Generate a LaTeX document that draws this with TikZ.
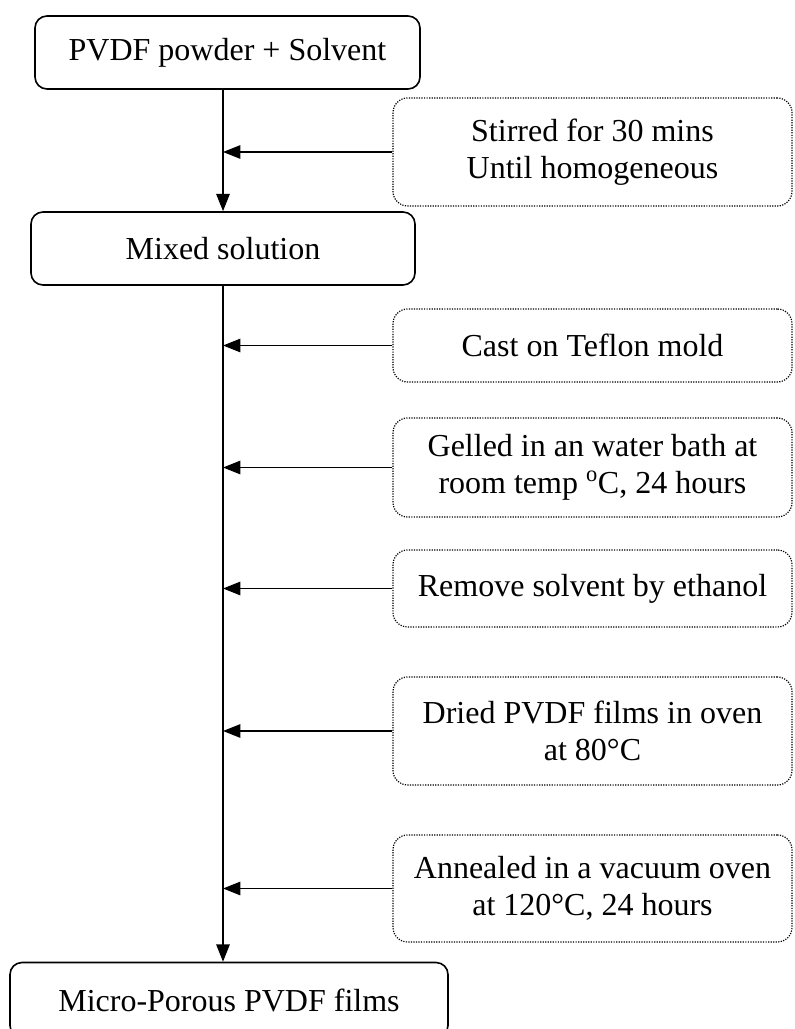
\documentclass[tikz,border=0pt]{standalone}
\usepackage{fontspec}
\setmainfont{Liberation Serif}
\usetikzlibrary{arrows.meta}
\tikzset{
  procbox/.style={draw, rounded corners=9pt, line width=1.2pt, inner sep=0pt, align=center},
  condbox/.style={draw, densely dotted, rounded corners=11pt, line width=0.9pt, inner sep=0pt, align=center, minimum width=299.25pt},
  flow/.style={line width=1.3pt, -{Triangle[length=13pt,width=10pt]}}
}
\begin{document}
\begin{tikzpicture}[x=0.75pt, y=-0.75pt, font=\fontsize{24}{28}\selectfont]
  \useasboundingbox (0,0) rectangle (794,1029);
  \clip (0,0) rectangle (794,1029);
  \coordinate (spine) at (223,0);
  % main steps
  \node[procbox, minimum width=288.75pt, minimum height=54.75pt] (powder) at (227.5,52.5) {PVDF powder + Solvent};
  \node[procbox, minimum width=288pt, minimum height=54.75pt] (mixed) at (223,248.5) {Mixed solution};
  \node[procbox, minimum width=328.5pt, minimum height=56.25pt] (films) at (229,1000) {Micro-Porous PVDF films};
  % conditions
  \node[condbox, minimum height=81pt] (stir) at (592.5,152) {Stirred for 30 mins\\Until homogeneous};
  \node[condbox, minimum height=54.75pt] (cast) at (592.5,345.5) {Cast on Teflon mold};
  \node[condbox, minimum height=74.25pt] (gelled) at (592.5,467.5) {Gelled in an water bath at\\room temp \textsuperscript{o}C, 24 hours};
  \node[condbox, minimum height=57.75pt] (remove) at (592.5,588.5) {Remove solvent by ethanol};
  \node[condbox, minimum height=81pt] (dried) at (592.5,731) {Dried PVDF films in oven\\at 80°C};
  \node[condbox, minimum height=80.25pt] (anneal) at (592.5,888.5) {Annealed in a vacuum oven\\at 120°C, 24 hours};
  % flow
  \draw[flow] (powder.south -| spine) -- (mixed.north -| spine);
  \draw[flow] (mixed.south -| spine) -- (films.north -| spine);
  \foreach \n in {stir,cast,gelled,remove,dried,anneal}
    \draw[flow] (\n.west) -- (\n.west -| spine);
\end{tikzpicture}
\end{document}
